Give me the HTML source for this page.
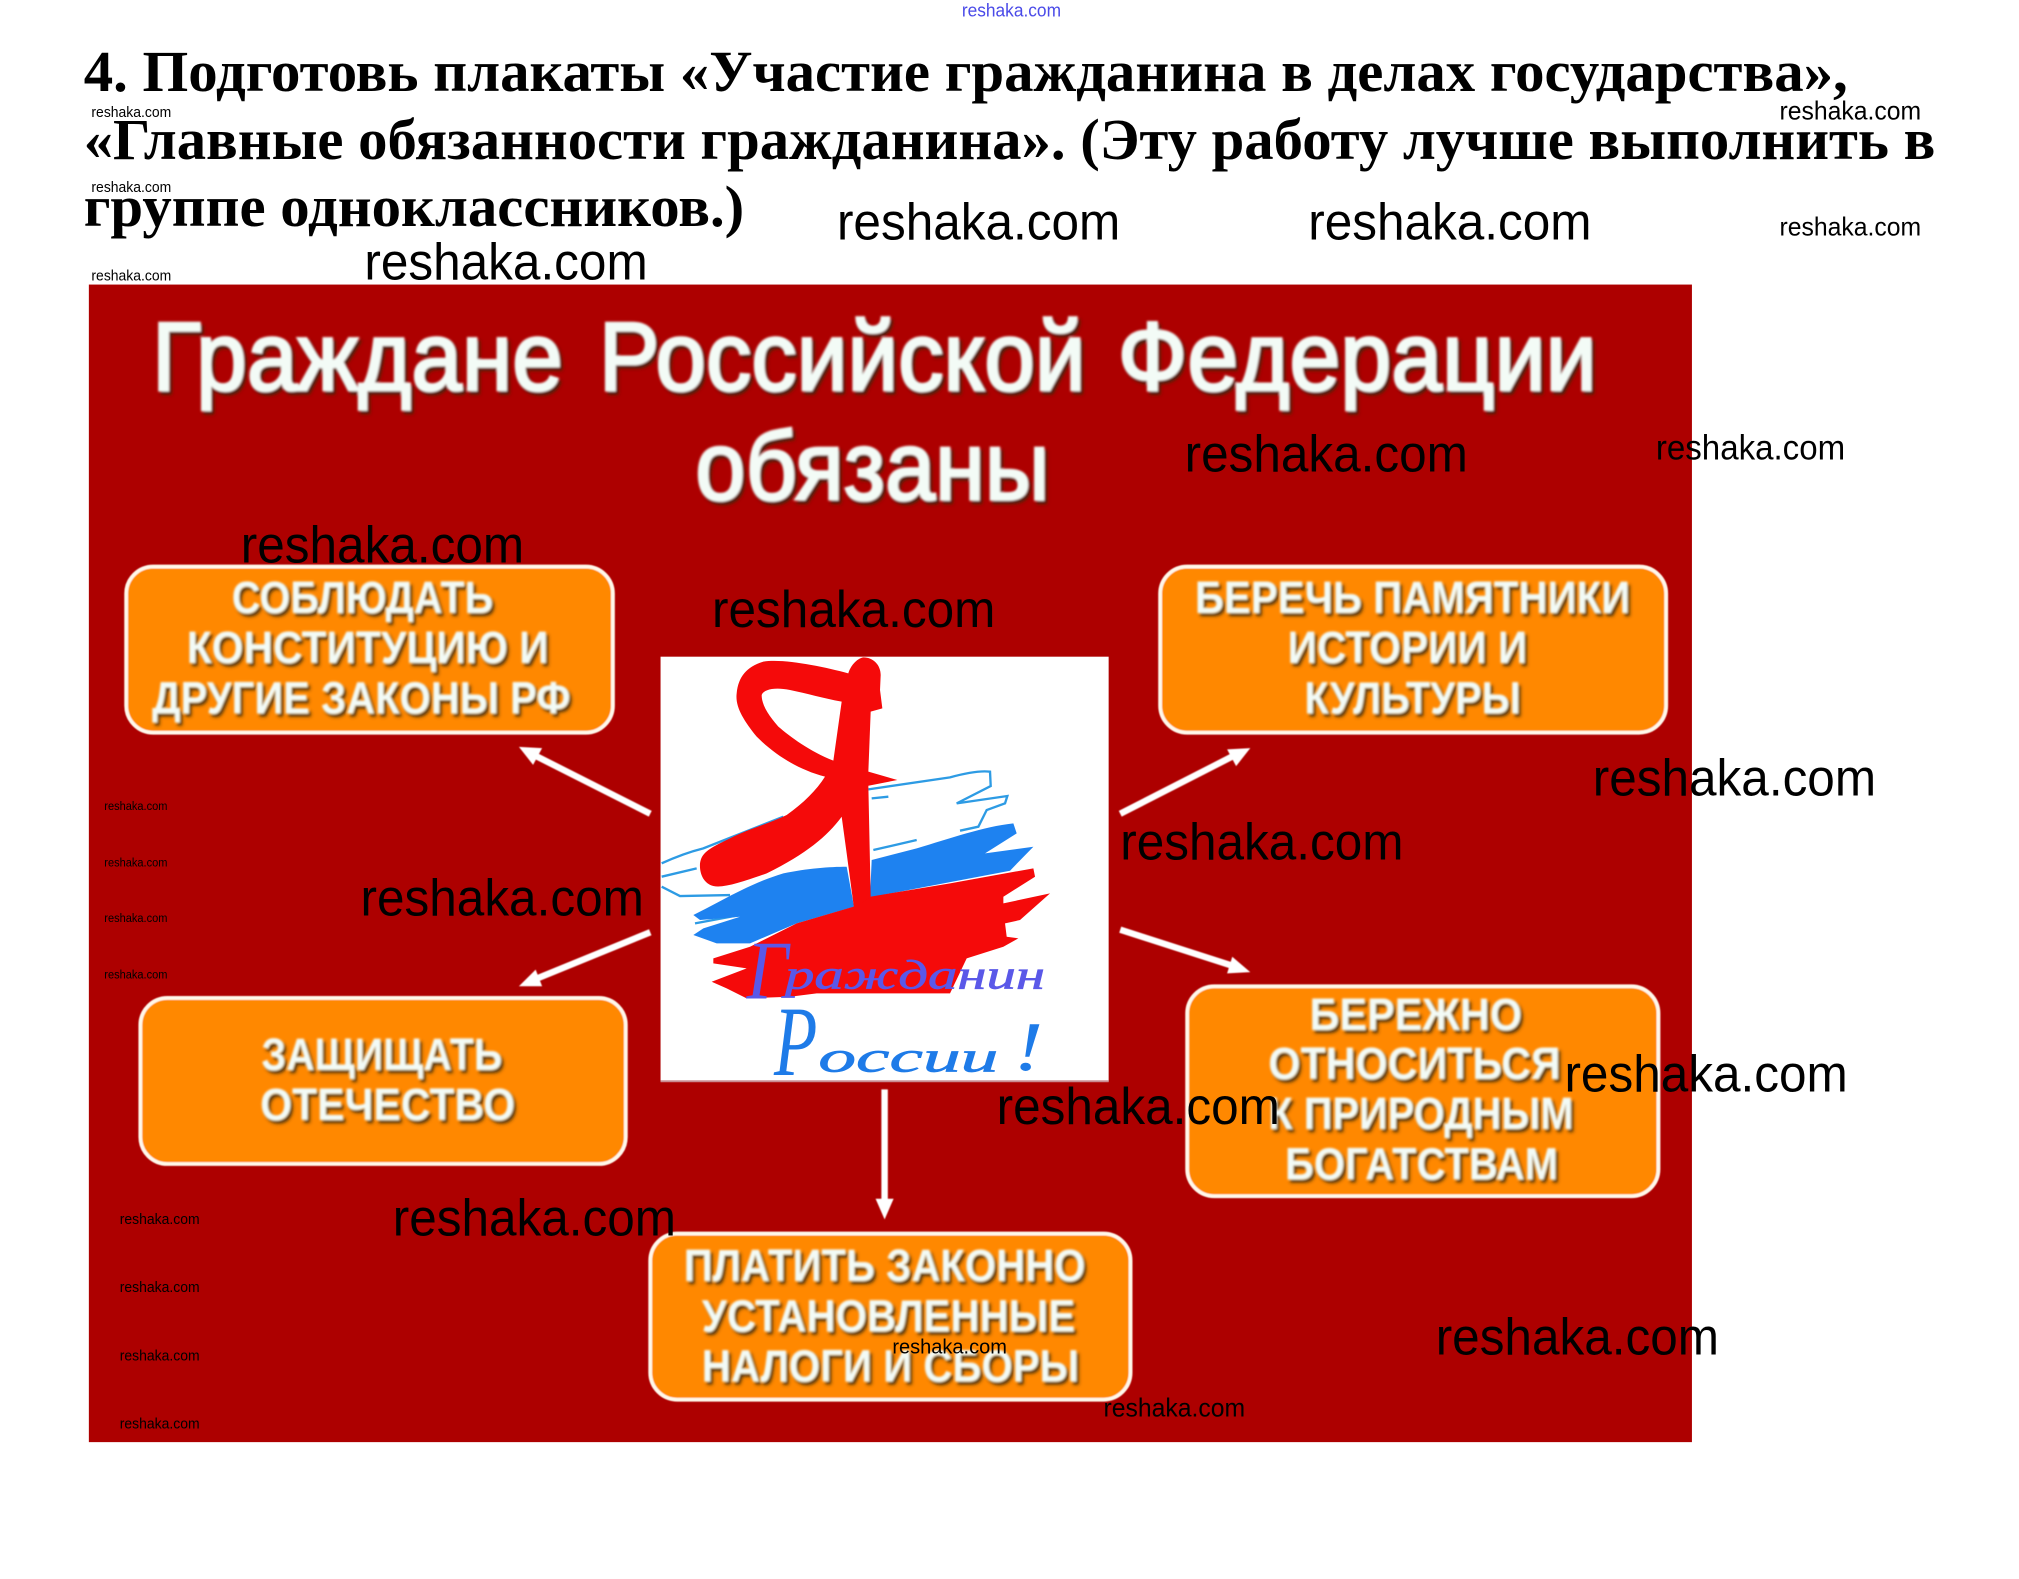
<!DOCTYPE html>
<html lang="ru"><head><meta charset="utf-8"><title>Граждане Российской Федерации обязаны</title>
<style>
html,body{margin:0;padding:0;background:#fff;width:2019px;height:1579px;overflow:hidden}
svg{display:block}
text{font-family:"Liberation Sans",sans-serif}
.t{font-family:"Liberation Serif",serif;font-weight:bold;font-size:45px;fill:#000}
.h{font-size:76px;fill:#f3fbf6;stroke:#f3fbf6;stroke-width:2}
.b{font-weight:bold;font-size:35px;fill:#f3fbf6}
.box{fill:#ff8800;stroke:#fff8ea;stroke-width:3}
.w{fill:#000}
.xl{font-size:40px}.l{font-size:27px}.m{font-size:20px}.ms{font-size:16px}.s{font-size:11.5px}.xs{font-size:9px}
.lg{font-family:"Liberation Serif",serif;font-style:italic}
</style></head><body>
<svg xmlns="http://www.w3.org/2000/svg" width="2019" height="1579" viewBox="0 0 1568 1226.3">
<defs>
<filter id="sh" x="-5%" y="-20%" width="110%" height="140%">
<feGaussianBlur in="SourceGraphic" stdDeviation="0.9" result="b"/>
<feDropShadow in="b" dx="2" dy="2.5" stdDeviation="1" flood-color="#3a2a10" flood-opacity="0.85"/>
</filter>
<filter id="sf"><feGaussianBlur stdDeviation="0.5"/></filter>
</defs>
<rect width="1568" height="1226.3" fill="#fff"/>

<!-- heading -->
<text x="65" y="70.5" class="t" textLength="1370" lengthAdjust="spacingAndGlyphs">4. Подготовь плакаты «Участие гражданина в делах государства»,</text>
<text x="65" y="123.5" class="t" textLength="1438" lengthAdjust="spacingAndGlyphs">«Главные обязанности гражданина». (Эту работу лучше выполнить в</text>
<text x="65" y="175.5" class="t" textLength="513" lengthAdjust="spacingAndGlyphs">группе одноклассников.)</text>

<!-- poster -->
<rect x="69" y="221" width="1245" height="899" fill="#ad0000"/>
<g filter="url(#sh)">
<text x="118" y="303" class="h" textLength="319" lengthAdjust="spacingAndGlyphs">Граждане</text>
<text x="465" y="303" class="h" textLength="378" lengthAdjust="spacingAndGlyphs">Российской</text>
<text x="868" y="303" class="h" textLength="372" lengthAdjust="spacingAndGlyphs">Федерации</text>
<text x="540" y="388" class="h" textLength="275" lengthAdjust="spacingAndGlyphs">обязаны</text>
</g>

<!-- boxes -->
<g filter="url(#sf)">
<rect class="box" x="98" y="440" width="378" height="129" rx="21"/>
<rect class="box" x="901" y="440" width="393" height="129" rx="21"/>
<rect class="box" x="109" y="775" width="377" height="129" rx="21"/>
<rect class="box" x="922" y="766" width="366" height="163" rx="21"/>
<rect class="box" x="505" y="958" width="373" height="129" rx="21"/>
</g>
<g filter="url(#sh)">
<text x="180" y="476" class="b" textLength="203" lengthAdjust="spacingAndGlyphs">СОБЛЮДАТЬ</text>
<text x="145" y="515" class="b" textLength="281" lengthAdjust="spacingAndGlyphs">КОНСТИТУЦИЮ И</text>
<text x="118" y="554" class="b" textLength="325" lengthAdjust="spacingAndGlyphs">ДРУГИЕ ЗАКОНЫ РФ</text>
<text x="928" y="476" class="b" textLength="338" lengthAdjust="spacingAndGlyphs">БЕРЕЧЬ ПАМЯТНИКИ</text>
<text x="1000" y="515" class="b" textLength="186" lengthAdjust="spacingAndGlyphs">ИСТОРИИ И</text>
<text x="1013" y="554" class="b" textLength="168" lengthAdjust="spacingAndGlyphs">КУЛЬТУРЫ</text>
<text x="203" y="831" class="b" textLength="187" lengthAdjust="spacingAndGlyphs">ЗАЩИЩАТЬ</text>
<text x="202" y="870" class="b" textLength="198" lengthAdjust="spacingAndGlyphs">ОТЕЧЕСТВО</text>
<text x="1017" y="800" class="b" textLength="165" lengthAdjust="spacingAndGlyphs">БЕРЕЖНО</text>
<text x="985" y="838" class="b" textLength="227" lengthAdjust="spacingAndGlyphs">ОТНОСИТЬСЯ</text>
<text x="985" y="877" class="b" textLength="237" lengthAdjust="spacingAndGlyphs">К ПРИРОДНЫМ</text>
<text x="998" y="916" class="b" textLength="212" lengthAdjust="spacingAndGlyphs">БОГАТСТВАМ</text>
<text x="531" y="995" class="b" textLength="312" lengthAdjust="spacingAndGlyphs">ПЛАТИТЬ ЗАКОННО</text>
<text x="545" y="1034" class="b" textLength="290" lengthAdjust="spacingAndGlyphs">УСТАНОВЛЕННЫЕ</text>
<text x="545" y="1073" class="b" textLength="293" lengthAdjust="spacingAndGlyphs">НАЛОГИ И СБОРЫ</text>
</g>

<!-- arrows -->
<g stroke="#fff" stroke-width="5" fill="#fff" filter="url(#sf)">
<line x1="505" y1="632" x2="412" y2="585"/><polygon stroke="none" points="403,580 421,581 414,594"/>
<line x1="870" y1="632" x2="960" y2="586"/><polygon stroke="none" points="971,581 960,595 953,582"/>
<line x1="505" y1="724" x2="412" y2="762"/><polygon stroke="none" points="403,766 416,753 421,766"/>
<line x1="870" y1="722" x2="960" y2="751"/><polygon stroke="none" points="971,755 953,756 957,743"/>
<line x1="687" y1="846" x2="687" y2="935"/><polygon stroke="none" points="687,947 680,931 694,931"/>
</g>

<!-- logo -->
<rect x="513" y="510" width="348" height="330" fill="#fff"/>
<rect x="513" y="839" width="348" height="1.5" fill="#c98a90"/>
<g transform="translate(504.8 497.05) scale(0.2589)">
<g fill="none" stroke="#2d9be4" stroke-width="7">
<path d="M35 670Q100 640 160 625L400 530"/><path d="M35 710L140 685"/><path d="M35 740L90 768L240 765"/>
<path d="M655 448L900 412Q980 390 1020 395L1022 438L920 490L1072 468L1065 490L1010 510L985 560L930 572"/>
<path d="M670 630L800 600"/><path d="M665 475L715 470"/><path d="M135 850L270 825"/>
</g>
<path fill="#1e82f0" d="M130 825C220 780 300 730 400 700C470 685 540 680 590 680L612 800L440 850L300 910L200 910L130 885L160 865L270 830L150 840Z"/>
<path fill="#1e82f0" d="M665 660L800 625C900 595 1000 560 1090 550L1100 580L1005 640L1150 620L1080 692L660 772Z"/>
<path fill="#f50a0a" d="M610 800L660 770L900 730L1150 685L1155 710L1060 770L1060 790L1200 760L1110 840L1065 850L1070 890L1105 895L1060 920L950 955L900 1060L500 1060L420 1070L290 1075L230 1045L185 1025L290 985L190 970L190 955L300 920L440 850Z"/>
<path fill="#f50a0a" fill-rule="evenodd" d="M640 52C670 52 692 75 692 105L690 150L697 205L662 215L655 395L742 420L655 437L662 770L612 805L590 640L575 530C530 590 470 640 350 700C280 725 220 745 190 738C160 730 148 700 150 670C155 640 170 628 240 595C300 565 360 550 410 525C460 490 500 450 525 410C450 390 380 350 320 290C280 240 255 200 260 160C265 110 290 80 340 65C400 55 520 80 595 100C600 80 620 55 640 52ZM335 165C340 150 370 140 420 150C470 160 520 175 575 185L550 362C480 335 420 290 385 260C355 225 335 195 335 165Z"/>
<text class="lg" x="290" y="1075" font-size="250" fill="#5a58e8" textLength="125" lengthAdjust="spacingAndGlyphs">Г</text>
<text class="lg" x="405" y="1045" font-size="125" fill="#5a58e8" stroke="#5a58e8" stroke-width="2" textLength="780" lengthAdjust="spacingAndGlyphs">ражданин</text>
<text class="lg" x="372" y="1305" font-size="300" fill="#1e7be8" textLength="130" lengthAdjust="spacingAndGlyphs">Р</text>
<text class="lg" x="505" y="1295" font-size="130" fill="#1e7be8" stroke="#1e7be8" stroke-width="2" textLength="540" lengthAdjust="spacingAndGlyphs">оссии</text>
<text class="lg" x="1090" y="1290" font-size="210" fill="#1e7be8" textLength="90" lengthAdjust="spacingAndGlyphs">!</text>
</g>

<!-- watermarks -->
<text x="747" y="13" font-size="14" fill="#4a4ae8" textLength="77" lengthAdjust="spacingAndGlyphs">reshaka.com</text>
<g class="w">
<text class="s" x="71" y="91" textLength="62" lengthAdjust="spacingAndGlyphs">reshaka.com</text>
<text class="s" x="71" y="149" textLength="62" lengthAdjust="spacingAndGlyphs">reshaka.com</text>
<text class="s" x="71" y="218" textLength="62" lengthAdjust="spacingAndGlyphs">reshaka.com</text>
<text class="m" x="1382" y="93" textLength="110" lengthAdjust="spacingAndGlyphs">reshaka.com</text>
<text class="m" x="1382" y="183" textLength="110" lengthAdjust="spacingAndGlyphs">reshaka.com</text>
<text class="xl" x="650" y="186" textLength="220" lengthAdjust="spacingAndGlyphs">reshaka.com</text>
<text class="xl" x="1016" y="186" textLength="220" lengthAdjust="spacingAndGlyphs">reshaka.com</text>
<text class="xl" x="283" y="217" textLength="220" lengthAdjust="spacingAndGlyphs">reshaka.com</text>
<text class="xl" x="920" y="366" textLength="220" lengthAdjust="spacingAndGlyphs">reshaka.com</text>
<text class="l" x="1286" y="357" textLength="147" lengthAdjust="spacingAndGlyphs">reshaka.com</text>
<text class="xl" x="187" y="437" textLength="220" lengthAdjust="spacingAndGlyphs">reshaka.com</text>
<text class="xl" x="553" y="487" textLength="220" lengthAdjust="spacingAndGlyphs">reshaka.com</text>
<text class="xl" x="1237" y="618" textLength="220" lengthAdjust="spacingAndGlyphs">reshaka.com</text>
<text class="xl" x="870" y="667.5" textLength="220" lengthAdjust="spacingAndGlyphs">reshaka.com</text>
<text class="xl" x="280" y="711" textLength="220" lengthAdjust="spacingAndGlyphs">reshaka.com</text>
<text class="xs" x="81" y="629" textLength="49" lengthAdjust="spacingAndGlyphs">reshaka.com</text>
<text class="xs" x="81" y="673" textLength="49" lengthAdjust="spacingAndGlyphs">reshaka.com</text>
<text class="xs" x="81" y="716" textLength="49" lengthAdjust="spacingAndGlyphs">reshaka.com</text>
<text class="xs" x="81" y="760" textLength="49" lengthAdjust="spacingAndGlyphs">reshaka.com</text>
<text class="xl" x="1215" y="847.5" textLength="220" lengthAdjust="spacingAndGlyphs">reshaka.com</text>
<text class="xl" x="774" y="873" textLength="220" lengthAdjust="spacingAndGlyphs">reshaka.com</text>
<text class="xl" x="305" y="959.5" textLength="220" lengthAdjust="spacingAndGlyphs">reshaka.com</text>
<text class="s" x="93" y="950.5" textLength="62" lengthAdjust="spacingAndGlyphs">reshaka.com</text>
<text class="s" x="93" y="1003.5" textLength="62" lengthAdjust="spacingAndGlyphs">reshaka.com</text>
<text class="s" x="93" y="1056.5" textLength="62" lengthAdjust="spacingAndGlyphs">reshaka.com</text>
<text class="s" x="93" y="1109.5" textLength="62" lengthAdjust="spacingAndGlyphs">reshaka.com</text>
<text class="ms" x="693" y="1051" textLength="89" lengthAdjust="spacingAndGlyphs">reshaka.com</text>
<text class="m" x="857" y="1100" textLength="110" lengthAdjust="spacingAndGlyphs">reshaka.com</text>
<text class="xl" x="1115" y="1052" textLength="220" lengthAdjust="spacingAndGlyphs">reshaka.com</text>
</g>
</svg>
</body></html>
